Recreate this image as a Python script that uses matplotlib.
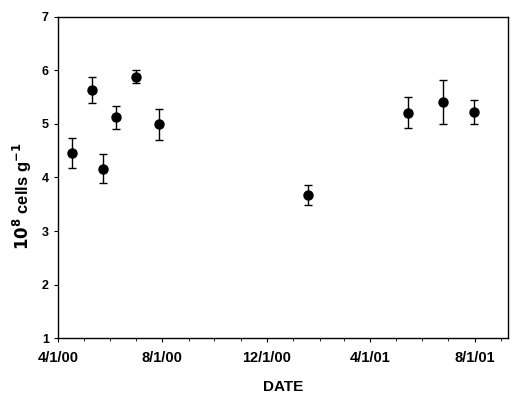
import matplotlib
matplotlib.use("Agg")
import matplotlib.pyplot as plt
import matplotlib.dates as mdates
import pandas as pd

# Sampling dates and cell counts (10^8 cells per g) with standard errors
dates = pd.to_datetime(["2000-04-17", "2000-05-11", "2000-05-24", "2000-06-08",
                        "2000-07-01", "2000-07-28", "2001-01-18", "2001-05-15",
                        "2001-06-25", "2001-07-31"])
cells = [4.46, 5.63, 4.16, 5.12, 5.88, 4.99, 3.67, 5.21, 5.40, 5.22]
errors = [0.28, 0.25, 0.27, 0.22, 0.12, 0.29, 0.19, 0.29, 0.41, 0.23]

tick_dates = pd.to_datetime(["2000-04-01", "2000-08-01", "2000-12-01",
                             "2001-04-01", "2001-08-01"])
tick_labels = ["4/1/00", "8/1/00", "12/1/00", "4/1/01", "8/1/01"]

plt.rcParams['font.family'] = ['Liberation Sans', 'DejaVu Sans']

fig = plt.figure(figsize=(5.12, 3.97), dpi=100)
ax = fig.add_axes([0.113, 0.148, 0.879, 0.81])

ax.errorbar(dates, cells, yerr=errors, fmt='o', color='black',
            markersize=6.5, capsize=3, elinewidth=1, capthick=1)

ax.set_xlim(pd.Timestamp("2000-04-01"), pd.Timestamp("2001-09-09"))
ax.set_ylim(1, 7)
ax.set_yticks(range(1, 8))

ax.set_xticks(tick_dates)
ax.set_xticklabels(tick_labels)
ax.xaxis.set_minor_locator(mdates.MonthLocator())

ax.tick_params(axis='both', which='major', direction='out', length=3,
               width=0.8, labelsize=9)
ax.tick_params(axis='x', which='major', labelsize=10.5, pad=6)
ax.tick_params(axis='x', which='minor', direction='out', length=2, width=0.6)
for lab in ax.get_xticklabels() + ax.get_yticklabels():
    lab.set_fontweight('bold')

ax.set_xlabel('DATE', fontsize=11, fontweight='bold', labelpad=11)
ax.set_ylabel(r'$\mathbf{10^{8}}$ cells g$\mathbf{^{-1}}$', fontsize=12,
              fontweight='bold')
ax.yaxis.set_label_coords(-0.052, 0.44)

for sp in ax.spines.values():
    sp.set_linewidth(1)

fig.savefig("out.png", dpi=100)
